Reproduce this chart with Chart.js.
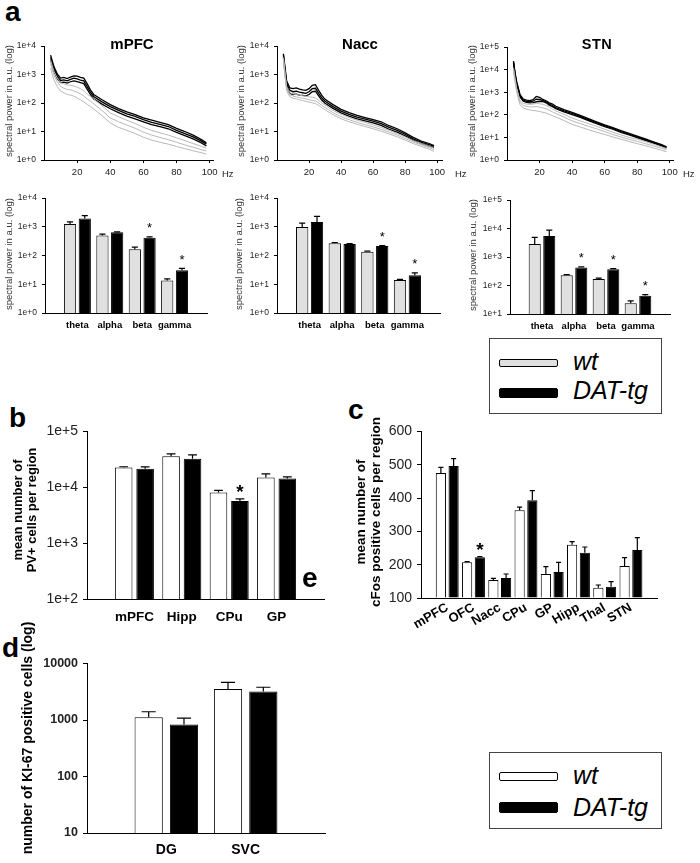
<!DOCTYPE html>
<html lang="en">
<head>
<meta charset="UTF-8">
<title>Spectral power and cell counts, wt vs DAT-tg</title>
<script src="https://cdn.jsdelivr.net/npm/chart.js"></script>
<style>
    body { margin: 0; background: #fff; font-family: 'Liberation Sans', Arial, sans-serif; }
    #fig { position: relative; width: 700px; height: 863px; overflow: hidden; }
    .box { position: absolute; }
    .txt { position: absolute; white-space: nowrap; color: #000; }
    .letter { font-weight: bold; font-size: 28px; line-height: 28px; }
    .rot { transform: translate(-50%, -50%) rotate(-90deg); text-align: center; }
    .ytitle { font-size: 9.5px; color: #333; }
    .ttl { font-weight: bold; font-size: 15px; transform: translate(-50%, -50%); }
    .hz { font-size: 9.5px; color: #222; transform: translateY(-50%); }
    .legend { position: absolute; border: 1px solid #444; box-sizing: border-box; }
    .sw { position: absolute; left: 9px; width: 59px; box-sizing: border-box; border: 1px solid #000; border-radius: 2px; }
    .ltxt { position: absolute; left: 83px; font-style: italic; font-size: 25px; line-height: 25px; white-space: nowrap; }
</style>
</head>
<body>
<div id="fig"></div>
<script>
    // ---- panel a, spectra (frequency in Hz, power in a.u.)
    const freqs = [4, 5, 6, 8, 10, 12, 14, 16, 18, 20, 22, 24, 26, 28, 30, 35, 40, 45, 50, 55, 60, 65, 70, 75, 80, 85, 90, 95, 98];

    const mpfcDatHi = [4800, 3000, 1900, 1050, 750, 800, 720, 820, 900, 880, 800, 750, 480, 290, 200, 130, 88, 64, 49, 39, 30, 25, 21, 17.5, 13, 10, 7.5, 5.2, 4.0];
    const mpfcDatMid = [4000, 2500, 1600, 900, 620, 650, 600, 680, 750, 700, 640, 600, 380, 240, 170, 110, 75, 55, 42, 34, 26, 21, 18, 15, 11, 8.5, 6.5, 4.6, 3.6];
    const mpfcDatLo = [3300, 2000, 1300, 720, 520, 540, 500, 560, 600, 560, 520, 480, 310, 200, 140, 92, 63, 46, 35, 28, 22, 17.5, 15, 12.5, 9.3, 7.2, 5.5, 4.0, 3.1];
    const mpfcWtHi = [3200, 2000, 1300, 750, 520, 470, 430, 420, 400, 360, 320, 270, 210, 170, 140, 80, 45, 33, 25, 19, 14, 11, 9, 7.5, 6.0, 4.8, 3.8, 3.0, 2.6];
    const mpfcWtMid = [2400, 1500, 950, 560, 380, 330, 300, 290, 270, 240, 210, 180, 140, 115, 95, 55, 30, 22, 17, 13, 9.5, 7.5, 6.2, 5.2, 4.2, 3.4, 2.8, 2.3, 2.1];
    const mpfcWtLo = [1700, 1000, 650, 380, 260, 230, 200, 190, 175, 150, 130, 110, 90, 75, 62, 36, 20, 14, 11, 8.5, 6.3, 5.0, 4.2, 3.6, 3.0, 2.5, 2.1, 1.8, 1.6];

    const naccDatHi = [5400, 1800, 600, 340, 320, 340, 310, 290, 280, 320, 420, 440, 280, 185, 135, 88, 60, 46, 37, 31, 26, 22, 16, 12.5, 9, 6.2, 4.6, 3.8, 3.2];
    const naccDatMid = [5000, 1500, 500, 280, 250, 260, 240, 230, 220, 250, 320, 330, 220, 150, 115, 75, 52, 40, 32, 27, 23, 19, 14, 11, 8, 5.5, 4.2, 3.5, 3.0];
    const naccDatLo = [4200, 1200, 400, 220, 200, 205, 190, 185, 180, 200, 250, 260, 180, 125, 98, 65, 45, 35, 28, 23.5, 20, 16.5, 12, 9.5, 7, 5.0, 3.8, 3.1, 2.7];
    const naccWtHi = [4000, 1200, 380, 230, 210, 200, 190, 180, 175, 165, 160, 150, 125, 100, 85, 55, 40, 31, 25, 21, 17, 14, 11, 8.5, 6.5, 4.8, 3.8, 3.0, 2.6];
    const naccWtMid = [3500, 1000, 320, 195, 175, 165, 155, 148, 140, 130, 125, 118, 100, 82, 70, 46, 33, 26, 21, 17.5, 14.5, 12, 9.5, 7.5, 5.7, 4.3, 3.4, 2.7, 2.3];
    const naccWtLo = [3000, 850, 270, 165, 148, 140, 130, 122, 115, 108, 102, 96, 82, 68, 58, 39, 28, 22, 18, 15, 12.5, 10.3, 8.2, 6.5, 5.0, 3.8, 3.0, 2.4, 2.0];

    const stnDatHi = [24000, 6800, 2800, 780, 500, 450, 430, 470, 650, 600, 480, 420, 340, 300, 240, 170, 128, 94, 68, 49, 36, 27, 20, 15, 11.3, 8.6, 6.4, 4.8, 3.8];
    const stnDatMid = [22000, 6000, 2500, 700, 450, 400, 380, 400, 500, 480, 430, 380, 300, 260, 210, 150, 115, 85, 62, 45, 33, 25, 18, 14, 10.5, 8, 6, 4.5, 3.6];
    const stnDatLo = [20000, 5300, 2200, 620, 400, 360, 340, 350, 380, 400, 390, 340, 270, 230, 190, 135, 103, 77, 56, 41, 30, 23, 16.5, 12.8, 9.7, 7.4, 5.6, 4.2, 3.4];
    const stnWtHi = [12000, 4000, 1500, 420, 320, 300, 290, 300, 320, 310, 290, 260, 220, 180, 150, 105, 72, 54, 41, 31, 23, 17, 13, 10, 8.3, 6.5, 5.0, 3.8, 3.2];
    const stnWtMid = [10000, 3300, 1250, 350, 260, 240, 225, 225, 230, 220, 205, 185, 160, 135, 115, 80, 54, 41, 31, 24, 18, 13.5, 10.5, 8.2, 6.7, 5.3, 4.2, 3.3, 2.8];
    const stnWtLo = [8000, 2700, 1000, 280, 200, 180, 165, 155, 150, 140, 130, 120, 105, 92, 80, 56, 38, 29, 22, 17, 13.5, 10.5, 8.3, 6.6, 5.3, 4.3, 3.4, 2.7, 2.3];

    const hzTicks = [20, 40, 60, 80, 100];
    const powTicks4 = [1, 10, 100, 1000, 10000];
    const powLabels4 = ['1e+0', '1e+1', '1e+2', '1e+3', '1e+4'];
    const powTicks5 = [1, 10, 100, 1000, 10000, 100000];
    const powLabels5 = ['1e+0', '1e+1', '1e+2', '1e+3', '1e+4', '1e+5'];
    const powTicksBand5 = [10, 100, 1000, 10000, 100000];
    const powLabelsBand5 = ['1e+1', '1e+2', '1e+3', '1e+4', '1e+5'];

    // ---- panel a, band power
    const bands = ['theta', 'alpha', 'beta', 'gamma'];
    const mpfcBandWt = [1250, 500, 165, 13.5];
    const mpfcBandWtErr = [1480, 560, 195, 15.5];
    const mpfcBandDat = [1950, 650, 420, 31];
    const mpfcBandDatErr = [2450, 665, 450, 36];
    const mpfcBandSig = [false, false, true, true];

    const naccBandWt = [980, 270, 136, 14];
    const naccBandWtErr = [1350, 285, 142, 14.8];
    const naccBandDat = [1480, 250, 215, 20.5];
    const naccBandDatErr = [2300, 262, 222, 25];
    const naccBandSig = [false, false, true, true];

    const stnBandWt = [2900, 230, 170, 24];
    const stnBandWtErr = [4900, 242, 182, 29];
    const stnBandDat = [5500, 430, 370, 44];
    const stnBandDatErr = [8800, 455, 395, 48];
    const stnBandSig = [false, true, true, true];

    // ---- panel b, PV+ cells
    const pvRegions = ['mPFC', 'Hipp', 'CPu', 'GP'];
    const pvWt = [22700, 36000, 8100, 14900];
    const pvWtErr = [23300, 39500, 8800, 17300];
    const pvDat = [21500, 32500, 5650, 14300];
    const pvDatErr = [23200, 38000, 6200, 15300];
    const pvSig = [false, false, true, false];
    const pvTicks = [100, 1000, 10000, 100000];
    const pvLabels = ['1e+2', '1e+3', '1e+4', '1e+5'];

    // ---- panel c, cFos cells
    const fosRegions = ['mPFC', 'OFC', 'Nacc', 'CPu', 'GP', 'Hipp', 'Thal', 'STN'];
    const fosWt = [475, 207, 154, 363, 172, 260, 131, 196];
    const fosWtErr = [492, 209, 159, 373, 194, 269, 139, 221];
    const fosDat = [496, 222, 160, 393, 178, 236, 134, 244];
    const fosDatErr = [518, 224, 172, 422, 207, 253, 149, 281];
    const fosSig = [false, true, false, false, false, false, false, false];
    const fosTicks = [100, 200, 300, 400, 500, 600];

    // ---- panel d, KI-67 cells
    const kiRegions = ['DG', 'SVC'];
    const kiWt = [1120, 3550];
    const kiWtErr = [1400, 4650];
    const kiDat = [830, 3200];
    const kiDatErr = [1080, 3800];
    const kiTicks = [10, 100, 1000, 10000];
    const kiLabels = ['10', '100', '1000', '10000'];

    const FONT = "'Liberation Sans', Arial, sans-serif";
    Chart.defaults.font.family = FONT;
    Chart.defaults.color = '#222';
    Chart.defaults.animation = false;
    Chart.defaults.plugins.legend.display = false;
    Chart.defaults.plugins.tooltip.enabled = false;

    const fig = document.getElementById('fig');

    // error whiskers (upward only) + significance stars
    const errPlugin = {
        id: 'errbars',
        afterDatasetsDraw(chart, args, opts) {
            const ctx = chart.ctx;
            const y = chart.scales.y;
            chart.data.datasets.forEach((ds, di) => {
                if (!ds.err) return;
                const meta = chart.getDatasetMeta(di);
                meta.data.forEach((bar, i) => {
                    const e = ds.err[i];
                    if (e == null) return;
                    const ye = y.getPixelForValue(e);
                    const cap = bar.width * 0.5;
                    ctx.save();
                    ctx.strokeStyle = '#000';
                    ctx.lineWidth = 1.2;
                    ctx.beginPath();
                    ctx.moveTo(bar.x, bar.y);
                    ctx.lineTo(bar.x, ye);
                    ctx.moveTo(bar.x - cap / 2, ye);
                    ctx.lineTo(bar.x + cap / 2, ye);
                    ctx.stroke();
                    if (ds.sig && ds.sig[i]) {
                        const fs = opts.starSize || 12;
                        ctx.fillStyle = '#000';
                        ctx.font = (opts.starBold ? 'bold ' : '') + fs + 'px ' + FONT;
                        ctx.textAlign = 'center';
                        ctx.textBaseline = 'alphabetic';
                        ctx.fillText('*', bar.x, ye - 12 + 0.57 * fs);
                    }
                    ctx.restore();
                });
            });
        }
    };
    Chart.register(errPlugin);

    function place(x0, x1, yt, yb, yw, xh, pt, pr) {
        const d = document.createElement('div');
        d.className = 'box';
        d.style.left = (x0 - yw) + 'px';
        d.style.top = (yt - pt) + 'px';
        d.style.width = (x1 - x0 + yw + pr) + 'px';
        d.style.height = (yb - yt + pt + xh) + 'px';
        const c = document.createElement('canvas');
        d.appendChild(c);
        fig.appendChild(d);
        return c;
    }

    function text(html, cls, x, y, style) {
        const t = document.createElement('div');
        t.className = 'txt ' + cls;
        t.style.left = x + 'px';
        t.style.top = y + 'px';
        if (style) t.style.cssText += style;
        t.innerHTML = html;
        fig.appendChild(t);
        return t;
    }

    function logY(ticks, labels, yw, size, bold, tickLen, pad) {
        return {
            type: 'logarithmic',
            min: ticks[0],
            max: ticks[ticks.length - 1],
            afterBuildTicks: s => { s.ticks = ticks.map(v => ({ value: v })); },
            afterFit: s => { s.width = yw; },
            ticks: {
                autoSkip: false,
                callback: (v, i) => labels[i],
                font: { size: size, weight: bold ? 'bold' : 'normal' },
                color: '#222',
                padding: pad
            },
            grid: { drawOnChartArea: false, drawTicks: true, tickLength: tickLen, color: '#000' },
            border: { display: true, color: '#000', width: 1 }
        };
    }

    function catX(labels, xh, size, pad, rot) {
        return {
            type: 'category',
            labels: ['', ...labels, ''],
            offset: false,
            afterFit: s => { s.height = xh; },
            ticks: {
                autoSkip: false,
                minRotation: rot || 0,
                maxRotation: rot || 0,
                font: { size: size, weight: 'bold' },
                color: '#000',
                padding: pad
            },
            grid: { display: false, drawTicks: false, tickLength: 0 },
            border: { display: true, color: '#000', width: 1 }
        };
    }

    const pad = arr => [null, ...arr, null];

    function barSets(wt, wtErr, dat, datErr, sig, wtFill, cp, bp, base) {
        const common = { categoryPercentage: cp, barPercentage: bp, borderColor: '#000', borderWidth: 1 };
        const a = Object.assign({ data: pad(wt), err: pad(wtErr), backgroundColor: wtFill }, common);
        const b = Object.assign({ data: pad(dat), err: pad(datErr), sig: sig ? pad(sig) : null, backgroundColor: '#000' }, common);
        if (base != null) { a.base = base; b.base = base; }
        return [a, b];
    }

    // ---------- panel a: spectra ----------
    function spectrum(geom, xmax, ticks, labels, wtLines, datLines) {
        const [x0, x1, yt, yb] = geom;
        const cv = place(x0, x1, yt, yb, 40, 22, 6, 12);
        const pts = arr => arr.map((v, i) => ({ x: freqs[i], y: v }));
        const ds = [];
        wtLines.forEach(l => ds.push({ data: pts(l), borderColor: '#b8b8b8', borderWidth: 1, pointRadius: 0 }));
        datLines.forEach(l => ds.push({ data: pts(l), borderColor: '#000', borderWidth: 1.3, pointRadius: 0 }));
        new Chart(cv, {
            type: 'line',
            data: { datasets: ds },
            options: {
                responsive: true,
                maintainAspectRatio: false,
                layout: { padding: { top: 6, right: 12, left: 0, bottom: 0 } },
                scales: {
                    x: {
                        type: 'linear', min: 0, max: xmax,
                        afterBuildTicks: s => { s.ticks = hzTicks.map(v => ({ value: v })); },
                        afterFit: s => { s.height = 22; },
                        ticks: { font: { size: 9.5 }, color: '#222', padding: 4, maxRotation: 0 },
                        grid: { drawOnChartArea: false, tickLength: 3, color: '#000' },
                        border: { display: true, color: '#000', width: 1 }
                    },
                    y: logY(ticks, labels, 40, 8.5, false, 3, 5)
                }
            }
        });
    }

    spectrum([44, 213, 42, 160], 102, powTicks4, powLabels4,
        [mpfcWtHi, mpfcWtMid, mpfcWtLo], [mpfcDatHi, mpfcDatMid, mpfcDatLo]);
    spectrum([277, 442, 42, 160], 103, powTicks4, powLabels4,
        [naccWtHi, naccWtMid, naccWtLo], [naccDatHi, naccDatMid, naccDatLo]);
    spectrum([507, 673, 43, 160], 102, powTicks5, powLabels5,
        [stnWtHi, stnWtMid, stnWtLo], [stnDatHi, stnDatMid, stnDatLo]);

    // ---------- panel a: band power ----------
    function bandChart(geom, ticks, labels, wt, wtErr, dat, datErr, sig) {
        const [x0, x1, yt, yb] = geom;
        const cv = place(x0, x1, yt, yb, 40, 24, 6, 4);
        new Chart(cv, {
            type: 'bar',
            data: { datasets: barSets(wt, wtErr, dat, datErr, sig, '#e0e0e0', 0.91, 0.83) },
            options: {
                responsive: true,
                maintainAspectRatio: false,
                layout: { padding: { top: 6, right: 4, left: 0, bottom: 0 } },
                plugins: { errbars: { starSize: 13, starBold: false } },
                scales: {
                    x: catX(bands, 24, 9.5, 7),
                    y: logY(ticks, labels, 40, 8.5, false, 3, 5)
                }
            }
        });
    }

    bandChart([45, 210, 194, 313], powTicks4, powLabels4, mpfcBandWt, mpfcBandWtErr, mpfcBandDat, mpfcBandDatErr, mpfcBandSig);
    bandChart([277, 443, 194, 313], powTicks4, powLabels4, naccBandWt, naccBandWtErr, naccBandDat, naccBandDatErr, naccBandSig);
    bandChart([510, 673, 196, 314], powTicksBand5, powLabelsBand5, stnBandWt, stnBandWtErr, stnBandDat, stnBandDatErr, stnBandSig);

    // ---------- panel b ----------
    {
        const cv = place(87, 330, 426, 599, 50, 32, 8, 4);
        new Chart(cv, {
            type: 'bar',
            data: { datasets: barSets(pvWt, pvWtErr, pvDat, pvDatErr, pvSig, '#fff', 0.905, 0.82) },
            options: {
                responsive: true,
                maintainAspectRatio: false,
                layout: { padding: { top: 8, right: 4, left: 0, bottom: 0 } },
                plugins: { errbars: { starSize: 19, starBold: true } },
                scales: {
                    x: catX(pvRegions, 32, 13.5, 10),
                    y: logY(pvTicks, pvLabels, 50, 14, false, 4, 5)
                }
            }
        });
    }

    // ---------- panel c ----------
    {
        const cv = place(421, 663, 426, 598, 50, 50, 8, 4);
        new Chart(cv, {
            type: 'bar',
            data: { datasets: barSets(fosWt, fosWtErr, fosDat, fosDatErr, fosSig, '#fff', 0.97, 0.8, 100) },
            options: {
                responsive: true,
                maintainAspectRatio: false,
                layout: { padding: { top: 8, right: 4, left: 0, bottom: 0 } },
                plugins: { errbars: { starSize: 19, starBold: true } },
                scales: {
                    x: catX(fosRegions, 50, 13, 2, 30),
                    y: {
                        type: 'linear', min: 100, max: 600,
                        afterBuildTicks: s => { s.ticks = fosTicks.map(v => ({ value: v })); },
                        afterFit: s => { s.width = 50; },
                        ticks: { font: { size: 14 }, color: '#222', padding: 5 },
                        grid: { drawOnChartArea: false, tickLength: 4, color: '#000' },
                        border: { display: true, color: '#000', width: 1 }
                    }
                }
            }
        });
    }

    // ---------- panel d ----------
    {
        const cv = place(87, 330, 659, 833, 50, 30, 8, 4);
        new Chart(cv, {
            type: 'bar',
            data: { datasets: barSets(kiWt, kiWtErr, kiDat, kiDatErr, null, '#fff', 0.89, 0.8) },
            options: {
                responsive: true,
                maintainAspectRatio: false,
                layout: { padding: { top: 8, right: 4, left: 0, bottom: 0 } },
                scales: {
                    x: catX(kiRegions, 30, 14, 9),
                    y: logY(kiTicks, kiLabels, 50, 12.5, true, 4, 5)
                }
            }
        });
    }

    // ---------- text ----------
    text('a', 'letter', 5, -2);
    text('b', 'letter', 9, 404);
    text('c', 'letter', 348, 396);
    text('d', 'letter', 2, 634);
    text('e', 'letter', 302, 564);

    text('mPFC', 'ttl', 132, 43);
    text('Nacc', 'ttl', 360, 43);
    text('STN', 'ttl', 597, 44, 'font-size:14.5px;letter-spacing:0.5px;');

    text('Hz', 'hz', 222, 173);
    text('Hz', 'hz', 455, 173);
    text('Hz', 'hz', 683, 173);

    [[8, 101], [240, 101], [471, 101], [8, 254], [238, 254], [472, 255]].forEach(p => {
        text('spectral power in a.u. (log)', 'rot ytitle', p[0], p[1]);
    });

    text('mean number of<br>PV+ cells per region', 'rot', 25, 510, 'font-weight:bold;font-size:13px;line-height:14px;');
    text('mean number of<br>cFos positive cells per region', 'rot', 368, 512, 'font-weight:bold;font-size:13.5px;line-height:15px;');
    text('number of KI-67 positive cells (log)', 'rot', 27, 738, 'font-weight:bold;font-size:14px;');

    function legend(top, h, wtFill, wtTop, wtH, datTop, datH, wtTxt, datTxt) {
        const l = document.createElement('div');
        l.className = 'legend';
        l.style.cssText = 'left:489px;top:' + top + 'px;width:173px;height:' + h + 'px;';
        l.innerHTML =
            '<div class="sw" style="top:' + wtTop + 'px;height:' + wtH + 'px;background:' + wtFill + ';"></div>' +
            '<div class="sw" style="top:' + datTop + 'px;height:' + datH + 'px;background:#000;"></div>' +
            '<div class="ltxt" style="top:' + wtTxt + 'px;">wt</div>' +
            '<div class="ltxt" style="top:' + datTxt + 'px;">DAT-tg</div>';
        fig.appendChild(l);
    }
    legend(338, 76, '#e0e0e0', 20, 8, 49, 10, 10, 39);
    legend(752, 77, '#fff', 19, 9, 49, 11, 10, 42);
</script>
</body>
</html>
